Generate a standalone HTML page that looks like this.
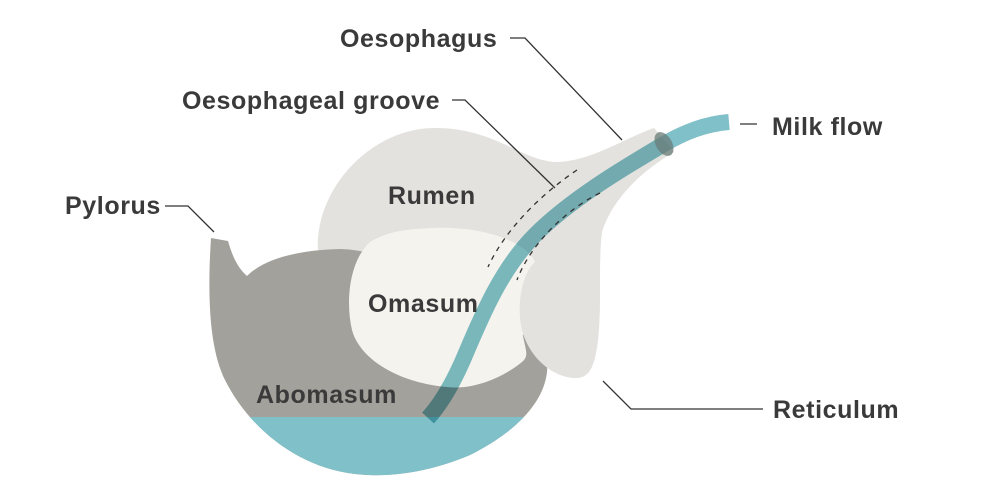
<!DOCTYPE html>
<html><head><style>
html,body{margin:0;padding:0;background:#fff;width:1000px;height:500px;overflow:hidden}
svg{display:block}
text{font-family:"Liberation Sans",sans-serif;font-weight:bold;fill:#3a3a3a;letter-spacing:0.6px}
</style></head><body>
<svg width="1000" height="500" viewBox="0 0 1000 500">
<defs>
<clipPath id="ab"><path id="abp" d="M211,238 L228,241 C233,258 238,268 247,276 C265,258 300,250 340,249 C380,250 420,270 470,300 C520,330 550,350 547,372 C544,400 520,430 470,455 C430,472 390,478 355,474 C300,468 250,430 225,380 C210,350 207,300 211,238 Z"/></clipPath>
</defs>
<path d="M318,252 C314,190 370,128 435,128 C495,128 520,160 555,162 C590,162 625,138 654,128 L674,152 C640,172 612,200 602,232 C598,260 602,300 598,340 C595,365 590,378 576,378 C555,378 530,360 522,330 C515,300 525,270 535,262 L480,252 Z" fill="#e3e2de"/>
<use href="#abp" fill="#a2a19b"/>
<rect x="200" y="417" width="400" height="80" fill="#80c0c9" clip-path="url(#ab)"/>
<path d="M433,228 C480,226 525,240 535,262 C528,285 520,310 522,330 C525,350 530,355 522,362 C500,380 470,390 447,387 C400,383 360,360 352,330 C345,300 350,260 370,242 C390,230 410,229 433,228 Z" fill="#f4f3ee"/>
<path d="M535,262 C560,250 600,230 602,232 C598,260 602,300 598,340 C595,365 590,378 576,378 C555,378 530,360 522,330 C515,300 525,270 535,262 Z" fill="#e3e2de"/>
<path d="M729,122 C705,124 685,132 664,144 C620,170 570,200 535,235 C500,270 480,320 463,360 C452,385 440,405 428,418" fill="none" stroke="#80c0c9" stroke-width="16" style="mix-blend-mode:multiply"/>
<ellipse cx="664" cy="144" rx="8" ry="13" transform="rotate(-30 664 144)" fill="#6a7c78" opacity="0.75"/>
<path d="M577,170 C540,195 505,230 488,267" fill="none" stroke="#333" stroke-width="1.3" stroke-dasharray="5,5"/>
<path d="M600,193 C565,210 530,245 517,280" fill="none" stroke="#333" stroke-width="1.3" stroke-dasharray="5,5"/>
<g fill="none" stroke="#333" stroke-width="1.3">
<path d="M510,38 L525,38 L622,140"/>
<path d="M452,100 L465,100 L555,188"/>
<path d="M165,206 L188,206 L214,232"/>
<path d="M740,124 L757,124"/>
<path d="M603,381 L631,409 L763,409"/>
</g>
<g font-size="25">
<text x="340" y="47">Oesophagus</text>
<text x="182" y="109">Oesophageal groove</text>
<text x="65" y="214">Pylorus</text>
<text x="772" y="135">Milk flow</text>
<text x="773" y="418">Reticulum</text>
<text x="388" y="204">Rumen</text>
<text x="368" y="312">Omasum</text>
<text x="256" y="403">Abomasum</text>
</g>
</svg>
</body></html>
